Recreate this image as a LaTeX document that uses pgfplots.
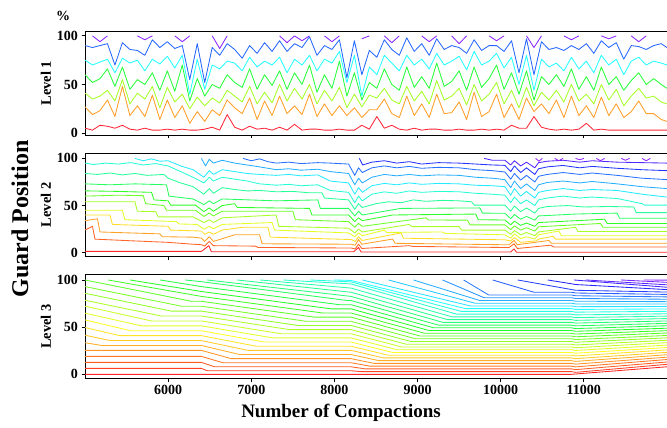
\documentclass[border=0pt]{standalone}
\usepackage{fontspec}
\setmainfont{Liberation Serif}
\usepackage{pgfplots}
\usepackage{pgfplotstable}
\pgfplotsset{compat=1.18}

% rainbow colours: level 2 (17 ranks) and level 3 (37 ranks)
\foreach \i in {0,...,16}{\pgfmathsetmacro\hh{16.875*\i}\xglobal\definecolor{m\i}{Hsb}{\hh,0.85,1}}
\foreach \i in {0,...,36}{\pgfmathsetmacro\hh{7.5*\i}\xglobal\definecolor{t\i}{Hsb}{\hh,0.85,1}}
\definecolor{ared}{Hsb}{355,0.85,1}
\definecolor{aora}{Hsb}{33,0.85,1}
\definecolor{aylw}{Hsb}{85,0.85,1}
\definecolor{agrn}{Hsb}{125,0.85,1}
\definecolor{acyn}{Hsb}{180,0.85,1}
\definecolor{ablu}{Hsb}{222,0.85,1}
\definecolor{apur}{Hsb}{268,0.85,1}

% level 1: x, red, orange, yellow-green, green, cyan, blue, purple
\pgfplotstableread{
x r o y g c b p
5000 5 27 41 60 75 90 nan
5090 3 19 35 52 70 88 100
5180 8 23 38 56 73 90 94
5270 7 34 44 66 76 92 100
5360 5 17 33 48 62 70 nan
5450 8 48 55 68 77 93 nan
5540 4 18 30 45 72 86 nan
5630 3 28 41 55 75 85 100
5720 5 17 35 50 64 80 96
5810 3 39 48 62 76 96 100
5900 3 14 26 44 71 88 nan
5990 4 34 47 64 79 94 nan
6080 3 16 32 43 67 87 100
6170 4 28 40 70 80 90 94
6260 3 10 25 33 40 55 100
6350 3 22 37 56 76 92 nan
6440 4 12 28 38 45 52 nan
6530 6 24 36 50 70 88 100
6620 3 18 31 46 66 80 87
6710 19 34 44 60 74 92 100
6800 6 26 38 52 72 86 nan
6890 3 20 32 47 64 77 nan
6980 7 36 48 66 78 90 nan
7070 4 14 30 45 68 82 nan
7160 5 33 42 60 74 93 nan
7250 3 18 31 49 70 84 nan
7340 6 38 50 64 78 95 100
7430 3 20 33 45 62 84 93
7520 9 28 46 62 76 92 100
7610 3 19 35 50 70 88 95
7700 4 40 50 70 80 99 100
7790 4 17 30 42 64 80 nan
7880 3 30 44 60 76 90 100
7970 3 18 33 46 72 86 94
8060 4 28 47 74 84 96 100
8150 3 18 26 38 52 57 nan
8240 3 26 40 62 80 95 nan
8330 8 16 27 34 38 60 97
8420 4 24 39 52 68 85 100
8510 17 24 36 46 60 78 nan
8600 5 35 46 66 80 96 100
8690 8 20 34 50 72 86 93
8780 4 16 30 44 64 80 100
8870 3 38 48 68 80 98 nan
8960 5 18 33 47 70 84 nan
9050 3 30 43 58 76 92 100
9140 4 16 30 46 66 80 94
9230 4 40 54 72 82 97 100
9320 3 20 34 48 70 86 nan
9410 3 21 38 53 74 90 100
9500 4 32 46 64 79 88 92
9590 3 14 29 44 65 82 100
9680 3 42 50 68 84 96 nan
9770 4 17 33 47 70 85 nan
9860 3 22 40 56 74 90 100
9950 4 40 52 70 82 90 95
10040 3 16 30 45 67 84 100
10130 8 30 44 62 78 95 nan
10220 5 14 26 40 50 62 nan
10310 5 36 47 64 80 97 100
10400 17 22 28 34 44 60 88
10490 6 30 42 58 76 94 100
10580 4 20 34 50 68 86 nan
10670 3 34 44 60 72 88 nan
10760 4 16 32 48 64 85 100
10850 3 38 50 66 78 90 96
10940 4 18 33 45 66 86 100
11030 10 28 40 58 74 92 nan
11120 3 16 30 44 62 82 nan
11210 4 37 50 68 80 95 100
11300 3 18 34 50 70 88 97
11390 3 30 45 58 76 93 100
11480 3 16 28 44 60 76 nan
11570 3 22 38 54 74 90 100
11660 3 33 46 62 78 89 94
11750 3 20 36 50 70 86 100
11840 3 20 38 56 74 90 nan
11930 3 14 32 50 72 92 nan
12000 3 12 30 46 70 88 nan
}\levelone

\pgfplotsset{
  panel/.style={
    anchor=south west, scale only axis, width=582pt, height=103.5pt,
    xmin=5000, xmax=12000, ymin=-4.2, ymax=105.5,
    axis x line*=box, axis y line*=left,
    scaled x ticks=false, scaled y ticks=false,
    xtick={6000,7000,8000,9000,10000,11000}, xticklabels={},
    ytick={0,50,100}, yticklabels={0,50,100},
    xtick pos=left, ytick pos=left,
    tick align=outside, major tick length=3.5pt,
    tick style={black, line width=0.8pt},
    axis line style={black, line width=0.8pt},
    ticklabel style={font=\fontsize{14}{14}\selectfont\bfseries},
    unbounded coords=jump,
    every axis plot/.append style={line width=0.85pt, line join=round},
  },
}

\begin{document}
\begin{tikzpicture}

% ---------------- Level 1 ----------------
\begin{axis}[panel, at={(85pt,293pt)}, ymin=-2, ymax=104.5]
\addplot[ared] table[x=x,y=r]{\levelone};
\addplot[aora] table[x=x,y=o]{\levelone};
\addplot[aylw] table[x=x,y=y]{\levelone};
\addplot[agrn] table[x=x,y=g]{\levelone};
\addplot[acyn] table[x=x,y=c]{\levelone};
\addplot[ablu] table[x=x,y=b]{\levelone};
\addplot[apur] table[x=x,y=p]{\levelone};
\end{axis}

% ---------------- Level 2 ----------------
\begin{axis}[panel, at={(85pt,171.3pt)}]
\addplot[m0] coordinates {(5000,1.4) (6400,1.4) (6490,7.5) (6520,1) (8230,1) (8290,5.5) (8320,0.8) (10120,0.8) (10160,4) (10190,0.5) (12000,0.5)};
\addplot[m1] coordinates {(5000,24) (5090,28) (5120,14.4) (5600,12.5) (6000,11) (6300,9) (6400,8.5) (6440,7) (6495,12) (6545,7.5) (7050,7) (7080,5.6) (8200,5) (8250,4) (8290,9) (8330,4.5) (8900,7.5) (8940,6.7) (10100,5.5) (10160,9.5) (10200,4.5) (10600,8) (10640,6) (12000,6)};
\addplot[m2] coordinates {(5000,34) (5150,36) (5180,22) (5900,20) (5930,17) (6300,16.5) (6400,15.5) (6440,12) (6495,17) (6545,12) (6800,19) (7100,19) (7130,9.5) (8200,9) (8250,8) (8290,14) (8330,9) (8700,14.5) (8730,10) (10100,8.4) (10160,13) (10200,8.5) (10580,13) (10610,10) (12000,10)};
\addplot[m3] coordinates {(5000,40) (5300,40) (5330,30) (6000,28) (6030,24) (6400,23) (6440,19.5) (6495,22) (6545,19.5) (6650,24) (6900,27) (7200,27) (7230,16.5) (8200,14) (8250,12) (8290,17) (8335,13) (8800,21) (8830,15.4) (10050,13.7) (10120,12.5) (10165,16) (10240,11) (10420,12.5) (10460,14.5) (10630,17.5) (10660,14.4) (12000,14.4)};
\addplot[m4] coordinates {(5000,45) (5450,45) (5480,35) (6100,33) (6130,30.5) (6350,30) (6430,25) (6495,28) (6545,25.5) (6650,30) (7250,32) (7280,24) (8170,21) (8245,17) (8290,21) (8335,18) (8600,24) (8630,21.5) (9300,22) (9330,20.5) (10050,19) (10120,15.5) (10165,20) (10240,15) (10310,17) (10410,14.5) (10455,19) (10700,23) (10730,18) (12000,18)};
\addplot[m5] coordinates {(5000,54) (5600,54) (5630,44) (5850,43.5) (5880,38) (6300,38) (6430,32) (6495,35) (6545,32) (6650,37) (7300,40) (7330,28) (8170,26) (8245,21) (8290,25) (8335,22) (8900,30) (8930,27.7) (9500,27.7) (9530,24) (10050,24) (10120,19.5) (10165,23.5) (10240,19) (10310,21.5) (10410,18) (10455,22) (10900,27) (10930,22.5) (12000,22.5)};
\addplot[m6] coordinates {(5000,60) (5400,61) (5700,60.5) (5730,52) (5950,50) (5980,45) (6330,45) (6430,38.5) (6495,42) (6545,39) (6650,44) (7500,44) (7530,35) (8170,33) (8245,27) (8290,31) (8335,28) (9100,37) (9130,34.7) (9600,34.5) (9630,29.5) (10050,29.5) (10120,24.5) (10165,28.5) (10240,24) (10310,26.5) (10410,23) (10455,27.5) (11200,31) (11230,27) (12000,27)};
\addplot[m7] coordinates {(5000,65.6) (5400,65) (5800,64) (5830,56) (6000,55) (6030,50.5) (6330,50.5) (6430,43.5) (6495,47.5) (6545,44) (6650,50) (6800,52) (6830,48) (7700,47) (7730,40) (8170,40) (8245,33) (8290,37) (8335,34) (8700,40) (9700,41) (9730,35) (10050,34.7) (10120,29.5) (10165,33.5) (10240,29) (10310,31.5) (10410,28) (10455,32) (11250,35.5) (11280,31) (12000,31)};
\addplot[m8] coordinates {(5000,73) (5300,72) (5600,73) (5980,72) (6010,60) (6300,57) (6430,51) (6495,55) (6545,52) (6650,57) (7300,55) (7800,56) (7830,47) (8170,47) (8245,39) (8290,44) (8335,40) (8800,47) (9750,47.5) (9780,42) (10050,41.8) (10120,36) (10165,40.5) (10240,35.5) (10310,38.5) (10410,34.5) (10455,39) (10900,41) (11400,42) (11430,36.5) (12000,36.5)};
\addplot[m9] coordinates {(5000,84) (5150,83) (5300,84.5) (5450,82.5) (5600,84) (5750,82) (5950,83) (6000,79) (6150,74) (6300,70) (6430,62) (6495,68) (6545,63) (6650,69) (6800,67) (6950,65.5) (7100,66) (7300,64.6) (7500,65) (7700,63.5) (7850,63.5) (7880,58) (8170,56) (8245,46) (8290,52) (8335,48) (8500,52) (8650,54) (8800,53) (8950,56) (9100,54.5) (9300,55.5) (9500,55) (9650,54) (9680,50.5) (10050,50.5) (10120,44) (10165,49.5) (10240,43.5) (10310,47.5) (10410,42) (10455,47) (10560,49) (10800,50) (11000,48.5) (11300,49) (11600,48.5) (11630,42.5) (12000,42.5)};
\addplot[m10] coordinates {(5000,95) (5100,93.5) (5250,95) (5400,94) (5550,95.5) (5700,93) (5850,94.5) (6000,92) (6150,86) (6300,80) (6430,74) (6495,80) (6545,76) (6650,80) (6800,78) (6950,76) (7100,73) (7300,71.6) (7450,72.5) (7600,71) (7800,72) (7950,66) (8170,64) (8245,53) (8290,60) (8335,55) (8450,62) (8600,64.5) (8750,63) (8900,65.5) (9050,64) (9250,65) (9500,64.6) (9700,63) (9900,62) (10050,61) (10120,53) (10165,59) (10240,52) (10310,56) (10410,50) (10455,56) (10560,58) (10750,60) (10950,58) (11100,59) (11400,57.5) (11700,52) (11730,50.5) (12000,50.5)};
\addplot[m11] coordinates {(5600,100) (5700,97.5) (5800,99.5) (5900,97) (6000,97.5) (6150,92) (6300,88) (6430,80) (6495,87) (6545,83) (6650,88) (6800,86) (6950,84) (7100,83) (7300,82) (7450,83) (7600,81.5) (7800,82.5) (7950,76) (8170,74) (8245,62) (8290,69) (8335,64) (8450,71) (8600,73.5) (8750,72) (8900,74) (9050,72.5) (9250,73.5) (9500,73) (9700,71.5) (9900,71) (10050,70) (10120,61) (10165,68) (10240,60) (10310,65) (10410,58) (10455,64) (10560,66) (10750,68) (10950,66) (11100,67) (11400,66) (11700,62) (12000,59)};
\addplot[m12] coordinates {(6400,100) (6450,92) (6495,99) (6545,95) (6650,98) (6800,95) (6950,93) (7100,91) (7300,88) (7450,89) (7600,87.5) (7800,88.5) (7950,86) (8170,84) (8245,72) (8290,79) (8335,74) (8450,80) (8600,83) (8750,81.5) (8900,83) (9050,81.5) (9250,82.5) (9500,82) (9700,80) (9900,79) (10050,77.5) (10120,69) (10165,76) (10240,68) (10310,73) (10410,66) (10455,72) (10560,74.5) (10750,76) (10950,74) (11100,75.5) (11400,73) (11700,70) (12000,68)};
\addplot[m13] coordinates {(6900,100) (7000,97.5) (7100,99.5) (7200,96.5) (7300,95) (7450,96) (7600,94.5) (7800,95.5) (7950,95) (8170,94) (8245,82) (8290,90) (8335,85) (8450,90) (8600,92) (8750,90) (8900,91.5) (9050,89.5) (9250,90.5) (9500,90) (9700,88) (9900,87) (10050,85.6) (10120,78) (10165,84) (10240,77) (10310,82) (10410,75) (10455,81) (10560,83) (10750,85) (10950,83) (11100,84.5) (11400,82) (11700,79) (12000,77.5)};
\addplot[m14] coordinates {(8300,100) (8340,93) (8450,96) (8600,97.5) (8750,95) (8900,96.5) (9050,94) (9250,95.5) (9500,95) (9700,94) (9900,93) (10050,92.6) (10120,86) (10165,92) (10240,85) (10310,90) (10410,83) (10455,89) (10560,91) (10750,92.5) (10950,90) (11100,91.5) (11400,89.5) (11700,88) (12000,87)};
\addplot[m15] coordinates {(9800,100) (9900,98) (10050,98) (10120,93) (10165,97.5) (10240,92) (10310,96) (10410,90) (10455,95.5) (10560,97) (10750,98) (10950,96) (11100,97.5) (11400,96) (11700,95.5) (12000,95)};
\addplot[m16] coordinates {(10420,100) (10460,97) (10500,100) (10510,nan) (10650,100) (10700,97.5) (10750,100) (10760,nan) (10900,100) (10950,98.5) (11000,100) (11010,nan) (11150,100) (11200,97.5) (11250,100) (11260,nan) (11450,100) (11500,98) (11550,100) (11560,nan) (11700,100) (11750,97.5) (11800,100)};
\end{axis}

% ---------------- Level 3 ----------------
\begin{axis}[panel, at={(85pt,49.7pt)}, xticklabels={6000,7000,8000,9000,10000,11000}]
\addplot[t0] coordinates {(5000,0) (10850,0) (12000,8)};
\addplot[t1] coordinates {(5000,6.3) (6400,6.3) (6470,3.8) (8200,3.8) (8315,2.9) (10850,2.9) (10900,2.1) (12000,10.6)};
\addplot[t2] coordinates {(5000,12.7) (6400,12.7) (6560,8) (8200,8) (8370,5.8) (10850,5.8) (10900,5) (12000,13.1)};
\addplot[t3] coordinates {(5000,19) (6400,19) (6660,12.3) (8200,12.3) (8425,8.7) (10850,8.7) (10900,7.9) (12000,15.7)};
\addplot[t4] coordinates {(5000,25.4) (6400,25.4) (6760,16.6) (8200,16.6) (8480,11.6) (10850,11.6) (10900,10.8) (12000,18.2)};
\addplot[t5] coordinates {(5000,33.5) (5200,30.6) (6400,30.6) (6860,21) (8200,21) (8535,14.5) (10850,14.5) (10900,13.7) (12000,20.8)};
\addplot[t6] coordinates {(5000,41.5) (5300,35.8) (6400,35.8) (6960,25.4) (8200,25.4) (8590,17.4) (10850,17.4) (10900,16.6) (12000,23.3)};
\addplot[t7] coordinates {(5000,49.6) (5420,41) (6400,41) (7060,29.8) (8200,29.8) (8645,20.3) (10850,20.3) (10900,19.5) (12000,25.9)};
\addplot[t8] coordinates {(5000,57.7) (5550,46.2) (6400,46.2) (7160,34.2) (8200,34.2) (8700,23.2) (10850,23.2) (10900,22.4) (12000,28.4)};
\addplot[t9] coordinates {(5000,64.8) (5680,51.4) (6400,51.4) (7260,38.6) (8200,38.6) (8755,26.1) (10850,26.1) (10900,25.3) (12000,31)};
\addplot[t10] coordinates {(5000,72.2) (5800,56.6) (6400,56.6) (7360,43) (8200,43) (8810,29) (10850,29) (10900,28.2) (12000,33.6)};
\addplot[t11] coordinates {(5000,78.5) (5920,61.8) (6400,61.8) (7460,47.4) (8200,47.4) (8865,31.9) (10850,31.9) (10900,31.1) (12000,36.1)};
\addplot[t12] coordinates {(5000,85.9) (6040,67) (6400,67) (7560,51.8) (8200,51.8) (8920,34.8) (10850,34.8) (10900,34) (12000,38.7)};
\addplot[t13] coordinates {(5000,93) (6160,72.2) (6400,72.2) (7660,56.2) (8200,56.2) (8975,37.7) (10850,37.7) (10900,36.9) (12000,41.2)};
\addplot[t14] coordinates {(5000,100) (6280,77.4) (6400,77.4) (7760,60.6) (8200,60.6) (9030,40.6) (10850,40.6) (10900,39.8) (12000,43.8)};
\addplot[t15] coordinates {(5277,100) (6400,82.6) (7860,65) (8200,65) (9085,43.5) (10850,43.5) (10900,42.7) (12000,46.3)};
\addplot[t16] coordinates {(5542,100) (6400,87.8) (7960,69.4) (8200,69.4) (9140,46.4) (10850,46.4) (10900,45.6) (12000,48.9)};
\addplot[t17] coordinates {(5904,100) (6400,93) (8060,73.8) (8200,73.8) (9195,49.3) (10850,49.3) (10900,48.5) (12000,51.5)};
\addplot[t18] coordinates {(6205,100) (6400,98.2) (8160,78.2) (8200,78.2) (9250,52.2) (10850,52.2) (10900,51.4) (12000,54)};
\addplot[t19] coordinates {(6470,100) (8200,82.6) (9305,55.1) (10850,55.1) (10900,54.3) (12000,56.6)};
\addplot[t20] coordinates {(6831,100) (8200,87) (9360,58) (10850,58) (10900,57.2) (12000,59.1)};
\addplot[t21] coordinates {(7108,100) (8200,91.4) (9415,60.9) (10850,60.9) (10900,60.1) (12000,61.7)};
\addplot[t22] coordinates {(7386,100) (8200,95.8) (9470,63.8) (10850,63.8) (10900,63) (12000,64.2)};
\addplot[t23] coordinates {(7711,100) (8200,98) (9525,66.7) (10850,66.7) (10900,65.9) (12000,66.8)};
\addplot[t24] coordinates {(8000,100) (8200,99.5) (9580,69.6) (10850,69.6) (10900,68.8) (12000,69.3)};
\addplot[t25] coordinates {(8337,100) (9635,72.5) (10850,72.5) (10900,71.7) (12000,71.9)};
\addplot[t26] coordinates {(8651,100) (9690,75.4) (10850,75.4) (10900,74.6) (12000,74.5)};
\addplot[t27] coordinates {(8952,100) (9745,78.3) (10850,78.3) (10900,77.5) (12000,77)};
\addplot[t28] coordinates {(9301,100) (9800,81.2) (10850,81.2) (10900,80.4) (12000,79.6)};
\addplot[t29] coordinates {(9554,100) (9855,84.1) (10850,84.1) (10900,83.3) (12000,82.1)};
\addplot[t30] coordinates {(9904,100) (10400,87) (10850,87) (10900,86.2) (12000,84.7)};
\addplot[t31] coordinates {(10205,100) (10850,89.9) (10900,89.1) (12000,87.2)};
\addplot[t32] coordinates {(10566,100) (10850,96) (10900,95.2) (12000,89.8)};
\addplot[t33] coordinates {(10880,100) (12000,92.3)};
\addplot[t34] coordinates {(11024,100) (12000,94.9)};
\addplot[t35] coordinates {(11446,100) (12000,97.5)};
\addplot[t36] coordinates {(11723,100) (12000,99.8)};
\end{axis}

% labels
\node[font=\fontsize{14}{14}\selectfont\bfseries] at (63pt,412pt) {\%};
\node[rotate=90, font=\fontsize{14.5}{14.5}\selectfont\bfseries] at (46pt,344.7pt) {Level 1};
\node[rotate=90, font=\fontsize{14.5}{14.5}\selectfont\bfseries] at (46pt,223pt) {Level 2};
\node[rotate=90, font=\fontsize{14.5}{14.5}\selectfont\bfseries] at (46pt,101.5pt) {Level 3};
\node[rotate=90, font=\fontsize{24}{24}\selectfont\bfseries] at (20pt,209pt) {Guard Position};
\node[font=\fontsize{19}{19}\selectfont\bfseries] at (341pt,15pt) {Number of Compactions};

\pgfresetboundingbox
\path (0pt,0pt) rectangle (667pt,428pt);
\end{tikzpicture}
\end{document}
